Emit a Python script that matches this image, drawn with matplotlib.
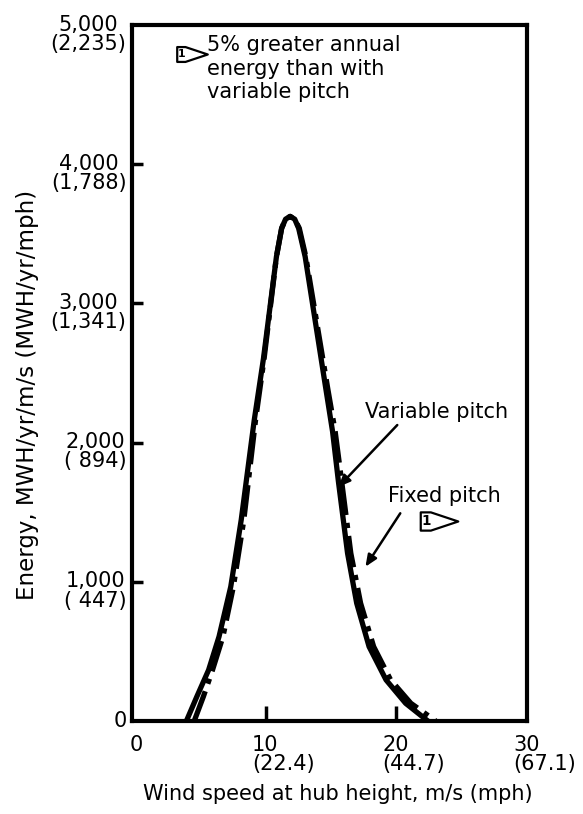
import matplotlib
matplotlib.use("Agg")
import matplotlib.pyplot as plt
from matplotlib.path import Path
from matplotlib.transforms import ScaledTranslation

plt.rcParams['font.family'] = ['DejaVu Sans']

# wind speed (m/s) vs energy (MWH/yr/m/s)
speed_var = [3.9, 4.7, 5.6, 6.4, 7.3, 8.1, 9.1, 9.8, 10.8, 11.2, 11.5, 11.85,
             12.2, 12.5, 13.0, 14.6, 15.1, 15.55, 16.25, 16.95, 17.9, 19.2, 20.7, 22.4]
energy_var = [0, 175, 366, 606, 965, 1444, 2162, 2600, 3336, 3540, 3605, 3625,
              3605, 3540, 3336, 2378, 2080, 1720, 1205, 846, 534, 295, 127, 0]

speed_fix = [4.5, 5.2, 5.9, 6.7, 7.5, 8.3, 9.2, 9.85, 10.8, 11.2, 11.5, 11.85,
             12.2, 12.55, 13.05, 14.75, 15.3, 15.8, 16.5, 17.25, 18.25, 19.55, 21.1, 23.0]
energy_fix = [0, 175, 366, 606, 965, 1444, 2162, 2600, 3336, 3540, 3605, 3625,
              3605, 3540, 3336, 2378, 2080, 1720, 1205, 846, 534, 295, 127, 0]

x_ticks = [0, 10, 20, 30]
x_labels = ['0', '10\n(22.4)', '20\n(44.7)', '30\n(67.1)']
y_ticks = [0, 1000, 2000, 3000, 4000, 5000]
y_labels = ['0', '1,000\n( 447)', '2,000\n( 894)', '3,000\n(1,341)',
            '4,000\n(1,788)', '5,000\n(2,235)']

fig = plt.figure(figsize=(5.83, 8.14), dpi=100)
ax = fig.add_axes([0.2264, 0.1143, 0.6775, 0.855])

ax.plot(speed_var, energy_var, color='black', lw=3.8,
        solid_joinstyle='round', solid_capstyle='round')
ax.plot(speed_fix, energy_fix, color='black', lw=3.8,
        linestyle=(0, (6, 1.5, 1, 1.5)), dash_joinstyle='round')

ax.set_xlim(-0.27, 30)
ax.set_ylim(0, 5000)
ax.set_xticks([])
ax.set_yticks([])

# x tick labels: left aligned, a bit left of the tick
for i, (xt, lab) in enumerate(zip(x_ticks, x_labels)):
    dx = -4.5 if i == 0 else -10
    tr = ax.get_xaxis_transform() + ScaledTranslation(dx / 72, -10 / 72, fig.dpi_scale_trans)
    ax.text(xt, 0, lab, transform=tr, fontsize=15, ha='left', va='top',
            multialignment='left', linespacing=0.95, clip_on=False)

# y tick labels: first line centred on the tick
for yt, lab in zip(y_ticks, y_labels):
    tr = ax.get_yaxis_transform() + ScaledTranslation(-4 / 72, 7.5 / 72, fig.dpi_scale_trans)
    ax.text(0, yt, lab, transform=tr, fontsize=15, ha='right', va='top',
            multialignment='center', linespacing=0.95, clip_on=False)

ax.set_xticks([10, 20], minor=True)
ax.set_yticks([1000, 2000, 3000, 4000], minor=True)
ax.tick_params(axis='x', which='minor', direction='in', length=11, width=2.5)
ax.tick_params(axis='y', which='minor', direction='in', length=8, width=2.5)
for s in ax.spines.values():
    s.set_linewidth(3)

ax.text(0.52, -0.09, 'Wind speed at hub height, m/s (mph)', transform=ax.transAxes,
        fontsize=15, ha='center', va='top')
ax.set_ylabel('Energy, MWH/yr/m/s (MWH/yr/mph)', fontsize=16.5)
ax.yaxis.set_label_coords(-0.235, 0.468)

# flag symbol: box with "1" and a pointer to the right
flag = Path([(-18.5, 9), (-8.5, 9), (18.5, 0), (-8.5, -9), (-18.5, -9), (-18.5, 9)],
            [Path.MOVETO, Path.LINETO, Path.LINETO, Path.LINETO, Path.LINETO,
             Path.CLOSEPOLY])


def draw_flag(x, y, size):
    ax.plot([x], [y], marker=flag, ms=size, mfc='white', mec='black', mew=1.6)
    ax.annotate('1', xy=(x, y), xytext=(-size * 0.33, 0), textcoords='offset points',
                fontsize=size * 0.36, ha='center', va='center', fontweight='bold')


# note at top
draw_flag(4.3, 4795, 22)
ax.text(5.5, 4925, '5% greater annual\nenergy than with\nvariable pitch',
        fontsize=15, ha='left', va='top', linespacing=1.2)

# curve labels
ax.text(17.55, 2177, 'Variable pitch', fontsize=15, ha='left', va='baseline')
ax.annotate('', xy=(15.55, 1681), xytext=(20.06, 2126),
            arrowprops=dict(arrowstyle='-|>,head_length=0.7,head_width=0.3',
                            color='black', lw=1.8, shrinkA=0, shrinkB=0))
ax.text(19.37, 1573, 'Fixed pitch', fontsize=15, ha='left', va='baseline')
ax.annotate('', xy=(17.62, 1108), xytext=(20.29, 1492),
            arrowprops=dict(arrowstyle='-|>,head_length=0.7,head_width=0.3',
                            color='black', lw=1.8, shrinkA=0, shrinkB=0))
draw_flag(23.25, 1437, 27)

fig.savefig('out.png', dpi=100)
